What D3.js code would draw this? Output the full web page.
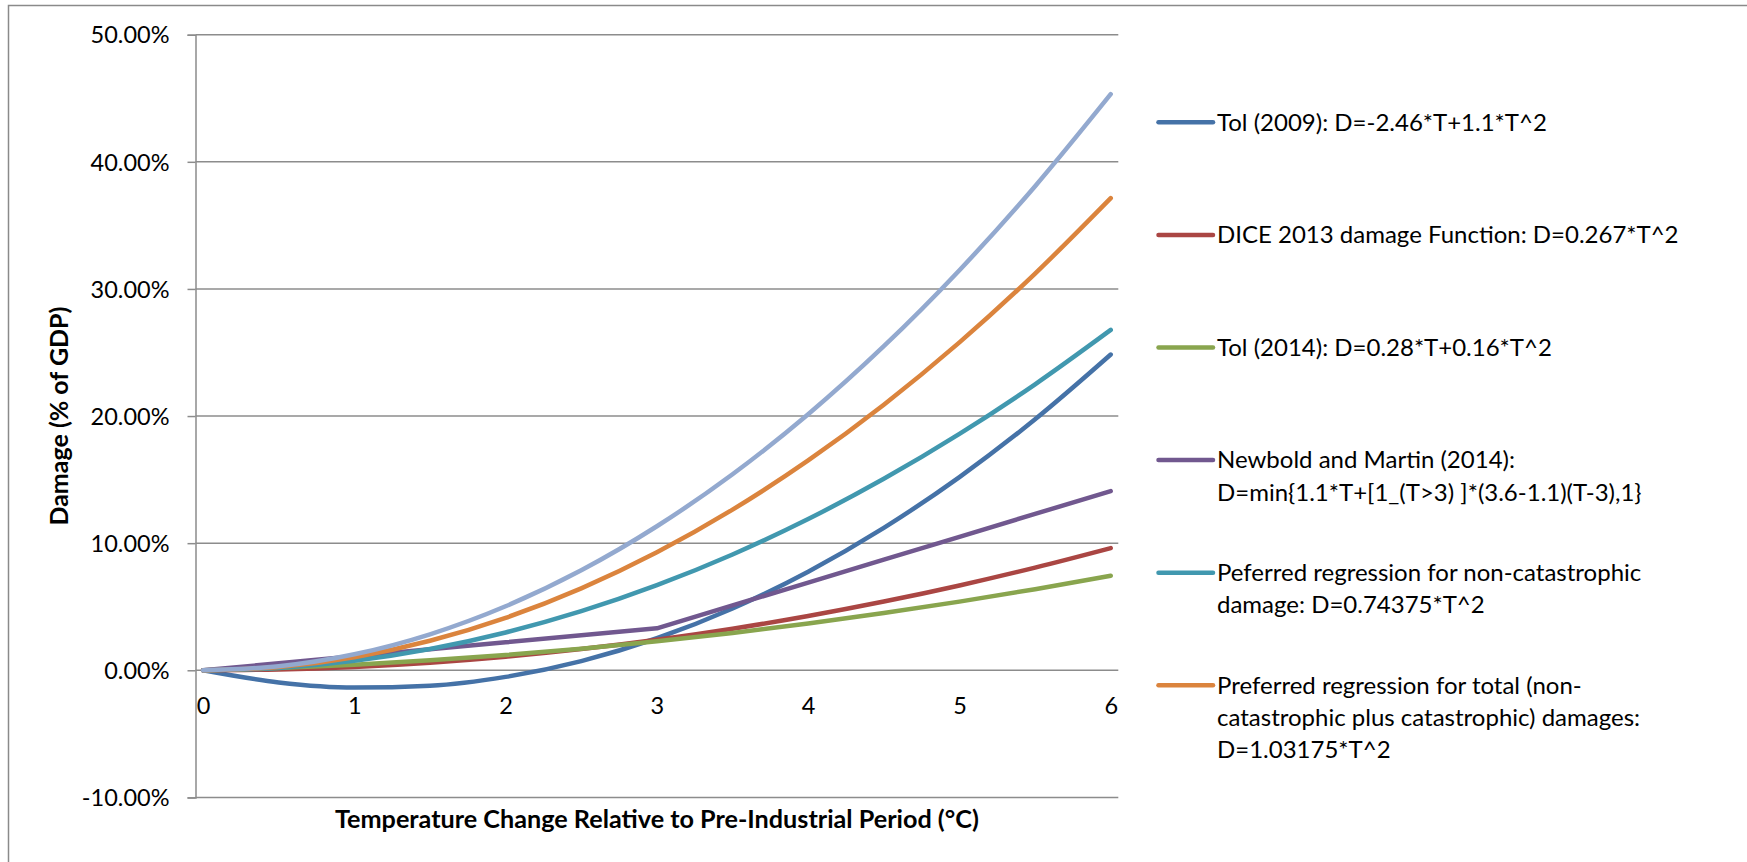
<!DOCTYPE html>
<html>
<head>
<meta charset="utf-8">
<script src="https://cdn.jsdelivr.net/npm/d3@7"></script>
<style>
  html, body { margin: 0; padding: 0; background: #fff; }
  svg { display: block; }
  .tick text { font-family: Lato, "Noto Sans", sans-serif; }
</style>
</head>
<body>
<svg id="chart" width="1747" height="862"></svg>
<script>
// Temperature change (°C) at which each damage function is evaluated
const temps = [0, 0.5, 1, 1.5, 2, 2.5, 3, 3.5, 4, 4.5, 5, 5.5, 6];

// Damage, % of GDP
const tol2009      = [0, -0.955, -1.36, -1.215, -0.52, 0.725, 2.52, 4.865, 7.76, 11.205, 15.2, 19.745, 24.84];
const dice2013     = [0, 0.067, 0.267, 0.601, 1.068, 1.669, 2.403, 3.271, 4.272, 5.407, 6.675, 8.077, 9.612];
const tol2014      = [0, 0.18, 0.44, 0.78, 1.2, 1.7, 2.28, 2.94, 3.68, 4.5, 5.4, 6.38, 7.44];
const newbold2014  = [0, 0.55, 1.1, 1.65, 2.2, 2.75, 3.3, 5.1, 6.9, 8.7, 10.5, 12.3, 14.1];
const nonCatastro  = [0, 0.186, 0.744, 1.673, 2.975, 4.648, 6.694, 9.111, 11.9, 15.061, 18.594, 22.498, 26.775];
const totalDamage  = [0, 0.258, 1.032, 2.321, 4.127, 6.448, 9.286, 12.639, 16.508, 20.893, 25.794, 31.21, 37.143];
const productivity = [0, 0.315, 1.259, 2.833, 5.036, 7.869, 11.331, 15.423, 20.144, 25.495, 31.475, 38.085, 45.324];

// Axis ticks
const yTicks = [-10, 0, 10, 20, 30, 40, 50];
const xTicks = [0, 1, 2, 3, 4, 5, 6];

// Legend labels (one entry per line of text)
const legendLabels = [
  ["Tol (2009): D=-2.46*T+1.1*T^2"],
  ["DICE 2013 damage Function: D=0.267*T^2"],
  ["Tol (2014): D=0.28*T+0.16*T^2"],
  ["Newbold and Martin (2014):", "D=min{1.1*T+[1_(T>3) ]*(3.6-1.1)(T-3),1}"],
  ["Peferred regression for non-catastrophic", "damage: D=0.74375*T^2"],
  ["Preferred regression for total (non-", "catastrophic plus catastrophic) damages:", "D=1.03175*T^2"]
];

const seriesValues = [tol2009, dice2013, tol2014, newbold2014, nonCatastro, totalDamage, productivity];
const seriesColors = ["#4572A7", "#AA4643", "#89A54E", "#71588F", "#4198AF", "#DB843D", "#93A9CF"];

const svg = d3.select("#chart");
const FONT = "Lato, 'Noto Sans', sans-serif";

// Plot area
const plot = { left: 195.5, right: 1118.3, top: 34.7, bottom: 797.4 };

const x = d3.scaleLinear().domain([-0.05, 6.05]).range([plot.left, plot.right]);
const y = d3.scaleLinear().domain([-10, 50]).range([plot.bottom, plot.top]);

// Outer chart border
svg.append("rect")
  .attr("x", 8.5).attr("y", 5.5)
  .attr("width", 1800).attr("height", 900)
  .attr("fill", "none").attr("stroke", "#8a8a8a").attr("stroke-width", 1.5);

// Horizontal gridlines
svg.append("g").selectAll("line")
  .data(yTicks)
  .join("line")
  .attr("x1", plot.left).attr("x2", plot.right)
  .attr("y1", d => y(d)).attr("y2", d => y(d))
  .attr("stroke", "#8c8c8c").attr("stroke-width", 1.5);

// Vertical axis
const locale = d3.formatLocale({ decimal: ".", thousands: ",", grouping: [3], currency: ["", ""], minus: "-" });
const pct = locale.format(".2f");

const yAxis = svg.append("g")
  .attr("transform", `translate(${plot.left},0)`)
  .call(d3.axisLeft(y).tickValues(yTicks).tickSize(8).tickPadding(18).tickFormat(d => pct(d) + "%"));
yAxis.select(".domain").attr("stroke", "#8c8c8c").attr("stroke-width", 1.5);
yAxis.selectAll(".tick line").attr("stroke", "#8c8c8c").attr("stroke-width", 1.5);
yAxis.selectAll(".tick text")
  .attr("font-size", 23.5).attr("fill", "#000").attr("dy", "0.35em");

// Horizontal axis labels (axis crosses at 0%)
const xAxis = svg.append("g")
  .attr("transform", `translate(0,${y(0)})`)
  .call(d3.axisBottom(x).tickValues(xTicks).tickSize(0).tickPadding(27).tickFormat(d3.format("d")));
xAxis.select(".domain").remove();
xAxis.selectAll(".tick text").attr("font-size", 23.5).attr("fill", "#000");

// Series lines
const lineSmooth = d3.line().x((d, i) => x(temps[i])).y(d => y(d)).curve(d3.curveMonotoneX);
const lineStraight = d3.line().x((d, i) => x(temps[i])).y(d => y(d));

svg.append("g").selectAll("path")
  .data(seriesValues)
  .join("path")
  .attr("d", (vals, i) => (vals === newbold2014 ? lineStraight : lineSmooth)(vals))
  .attr("fill", "none")
  .attr("stroke", (d, i) => seriesColors[i])
  .attr("stroke-width", 4.5)
  .attr("stroke-linecap", "round")
  .attr("stroke-linejoin", "round");

// Legend
const legend = svg.append("g");
const legendTop = 122.3, legendStep = 112.6, lineGap = 32.4;
legendLabels.forEach((lines, i) => {
  const cy = legendTop + i * legendStep;
  legend.append("line")
    .attr("x1", 1158.5).attr("x2", 1213)
    .attr("y1", cy).attr("y2", cy)
    .attr("stroke", seriesColors[i]).attr("stroke-width", 4.5)
    .attr("stroke-linecap", "round");
  const t = legend.append("text")
    .attr("font-family", FONT).attr("font-size", 24).attr("fill", "#000");
  lines.forEach((s, j) => {
    t.append("tspan").attr("x", 1217).attr("y", cy + 8.2 + j * lineGap).text(s);
  });
});

// Axis titles
svg.append("text")
  .attr("x", (plot.left + plot.right) / 2).attr("y", 828)
  .attr("text-anchor", "middle")
  .attr("font-family", FONT).attr("font-weight", "bold").attr("font-size", 25.2)
  .text("Temperature Change Relative to Pre-Industrial Period (°C)");

svg.append("text")
  .attr("transform", `translate(68,${(plot.top + plot.bottom) / 2}) rotate(-90)`)
  .attr("text-anchor", "middle")
  .attr("font-family", FONT).attr("font-weight", "bold").attr("font-size", 25)
  .text("Damage (% of GDP)");
</script>
</body>
</html>
